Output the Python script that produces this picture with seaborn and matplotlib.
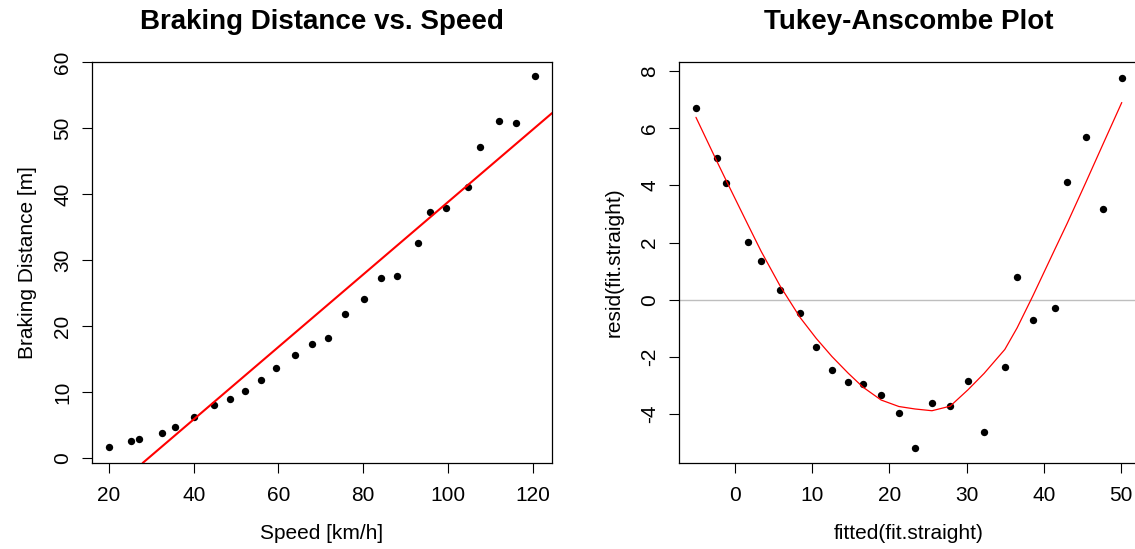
import matplotlib
matplotlib.use("Agg")
import matplotlib.pyplot as plt
import numpy as np
import pandas as pd
import seaborn as sns

# speed [km/h] and braking distance [m]
speed = [20.1, 25.1, 27.2, 32.4, 35.5, 40.0, 44.7, 48.5, 52.2, 56.0, 59.5, 63.8, 68.0,
         71.8, 75.8, 80.1, 84.3, 88.1, 93.0, 95.9, 99.6, 104.8, 107.7, 112.1, 116.1, 120.6]
distance = [1.65, 2.62, 2.92, 3.72, 4.73, 6.21, 7.98, 8.89, 10.11, 11.77, 13.61, 15.61, 17.28,
            18.13, 21.90, 24.17, 27.34, 27.64, 32.61, 37.35, 37.87, 41.15, 47.14, 51.12, 50.80, 57.88]

left_xticks = [20, 40, 60, 80, 100, 120]
left_yticks = [0, 10, 20, 30, 40, 50, 60]
right_xticks = [0, 10, 20, 30, 40, 50]
right_yticks = [-4, -2, 0, 2, 4, 6, 8]


def local_smooth(x, y, span=0.4):
    # local linear fit with tricube weights (loess-style smoother)
    n = len(x)
    q = min(max(int(np.floor(n * span + 1e-5)), 2), n)
    fit = np.zeros(n)
    for i in range(n):
        d = np.abs(x - x[i])
        h = np.sort(d)[q - 1]
        u = d / h
        w = np.where(u < 1, (1 - u ** 3) ** 3, 0.0)
        X = np.vander(x - x[i], 2, increasing=True)
        W = np.sqrt(w)
        beta = np.linalg.lstsq(X * W[:, None], y * W, rcond=None)[0]
        fit[i] = beta[0]
    return fit


df = pd.DataFrame({'speed': speed, 'distance': distance})
slope, intercept = np.polyfit(df['speed'], df['distance'], 1)
df['fitted'] = intercept + slope * df['speed']
df['resid'] = df['distance'] - df['fitted']
df = df.sort_values('fitted')
df['smooth'] = local_smooth(df['fitted'].to_numpy(), df['resid'].to_numpy())

sns.set_theme(style="ticks")
plt.rcParams['font.family'] = ['Liberation Sans', 'DejaVu Sans']
plt.rcParams['axes.unicode_minus'] = False
plt.rcParams['text.color'] = 'black'
plt.rcParams['axes.labelcolor'] = 'black'
plt.rcParams['axes.linewidth'] = 0.9
plt.rcParams['xtick.major.width'] = 0.8
plt.rcParams['ytick.major.width'] = 0.8

fig = plt.figure(figsize=(11.35, 5.49), dpi=100)
ax1 = fig.add_axes([0.0811, 0.1566, 0.4053, 0.7304])
ax2 = fig.add_axes([0.5982, 0.1566, 0.4050, 0.7304])

# left: data with straight line fit
sns.scatterplot(data=df, x='speed', y='distance', ax=ax1, color='black', s=28, linewidth=0)
ax1.axline((0, intercept), slope=slope, color='red', lw=1.5)
ax1.set_xlim(16.0, 124.6)
ax1.set_ylim(-0.76, 60.05)
ax1.set_xticks(left_xticks)
ax1.set_yticks(left_yticks)
ax1.set_xlabel('Speed [km/h]', fontsize=15, labelpad=14)
ax1.set_ylabel('Braking Distance [m]', fontsize=15, labelpad=12)
ax1.set_title('Braking Distance vs. Speed', fontsize=20, fontweight='bold', pad=24)

# right: Tukey-Anscombe plot
ax2.axhline(0, color='#bebebe', lw=1)
sns.scatterplot(data=df, x='fitted', y='resid', ax=ax2, color='black', s=28, linewidth=0)
sns.lineplot(data=df, x='fitted', y='smooth', ax=ax2, color='red', lw=0.9, sort=False)
ax2.set_xlim(-7.27, 52.3)
ax2.set_ylim(-5.71, 8.31)
ax2.set_xticks(right_xticks)
ax2.set_yticks(right_yticks)
ax2.set_xlabel('fitted(fit.straight)', fontsize=15, labelpad=14)
ax2.set_ylabel('resid(fit.straight)', fontsize=15, labelpad=12)
ax2.set_title('Tukey-Anscombe Plot', fontsize=20, fontweight='bold', pad=24)

for ax in (ax1, ax2):
    for sp in ax.spines.values():
        sp.set_visible(True)
        sp.set_color('black')
    ax.tick_params(axis='both', direction='out', length=7.2, labelsize=15, colors='black', pad=7)
    ax.tick_params(axis='x', pad=9)
    ax.tick_params(axis='y', labelrotation=90)
    for lab in ax.get_yticklabels():
        lab.set_va('center')

fig.savefig('out.png', dpi=100)
